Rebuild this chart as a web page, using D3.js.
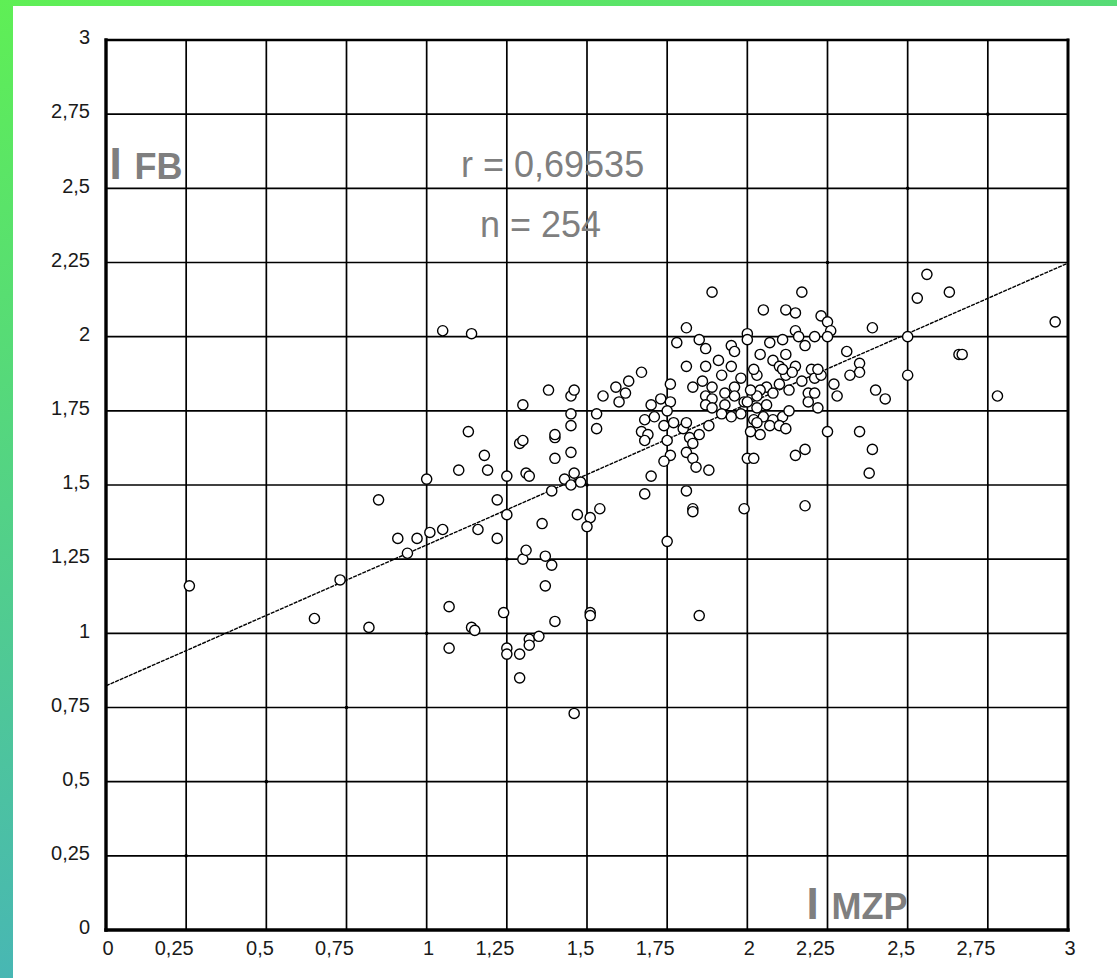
<!DOCTYPE html>
<html>
<head>
<meta charset="utf-8">
<script src="https://cdn.jsdelivr.net/npm/d3@7"></script>
<style>
  html, body { margin: 0; padding: 0; overflow: hidden; background: #fff; }
  svg { display: block; }
</style>
</head>
<body>
<svg id="chart" width="1117" height="978"></svg>
<script>
// I MZP (horizontal) and I FB (vertical) index per case
const iMZP = [
  0.26,0.65,0.73,0.82,0.85,0.91,0.94,0.97,1.01,1.00,1.05,1.05,1.14,1.13,1.18,1.10,1.19,1.07,1.07,1.14,
  1.15,1.16,1.22,1.22,1.25,1.25,1.24,1.25,1.25,1.29,1.29,1.32,1.32,1.35,1.40,1.37,1.37,1.39,1.30,1.31,
  1.36,1.30,1.29,1.30,1.38,1.40,1.40,1.40,1.45,1.31,1.32,1.43,1.46,1.45,1.48,1.39,1.45,1.46,1.45,1.45,
  1.53,1.53,1.55,1.59,1.62,1.60,1.63,1.67,1.47,1.51,1.50,1.54,1.51,1.51,1.46,1.68,1.70,1.75,1.81,1.83,
  1.83,1.85,1.76,1.78,1.81,1.85,1.81,1.89,1.87,1.95,1.96,2.00,2.00,2.05,2.12,2.15,2.17,2.23,2.25,2.26,
  2.39,2.07,2.11,2.15,2.16,2.18,2.21,2.25,2.31,2.35,2.35,2.32,2.27,2.28,2.40,2.43,2.25,2.35,2.39,2.18,
  2.15,2.38,2.18,1.99,2.00,2.02,2.56,2.63,2.53,2.96,2.50,2.66,2.67,2.50,2.78,
  1.70,1.73,1.76,1.68,1.71,1.75,1.74,1.77,1.80,1.67,1.69,1.68,1.75,1.81,1.76,1.74,1.82,1.83,1.84,1.81,
  1.85,1.88,1.88,1.83,
  1.91,1.87,1.95,1.83,1.86,1.89,1.92,1.96,1.98,1.87,1.89,1.93,1.96,1.87,1.89,1.93,1.92,1.95,1.98,1.99,
  2.04,2.08,2.10,2.12,2.03,2.06,2.04,2.08,2.10,2.12,2.13,2.00,2.03,2.06,2.02,2.05,2.08,2.11,2.03,2.07,
  2.10,2.01,2.04,2.02,2.11,2.15,2.17,2.19,2.03,2.01,2.20,2.21,2.23,2.21,2.19,2.22,2.13,2.12,2.22,2.14
];
const iFB = [
  1.16,1.05,1.18,1.02,1.45,1.32,1.27,1.32,1.34,1.52,1.35,2.02,2.01,1.68,1.60,1.55,1.55,1.09,0.95,1.02,
  1.01,1.35,1.32,1.45,1.53,1.40,1.07,0.95,0.93,0.93,0.85,0.98,0.96,0.99,1.04,1.16,1.26,1.23,1.25,1.28,
  1.37,1.77,1.64,1.65,1.82,1.66,1.67,1.59,1.61,1.54,1.53,1.52,1.54,1.50,1.51,1.48,1.80,1.82,1.74,1.70,
  1.74,1.69,1.80,1.83,1.81,1.78,1.85,1.88,1.40,1.39,1.36,1.42,1.07,1.06,0.73,1.47,1.53,1.31,1.48,1.42,
  1.41,1.06,1.84,1.98,2.03,1.99,1.90,2.15,1.96,1.97,1.95,2.01,1.99,2.09,2.09,2.08,2.15,2.07,2.05,2.02,
  2.03,1.98,1.99,2.02,2.00,1.97,2.00,2.00,1.95,1.91,1.88,1.87,1.84,1.80,1.82,1.79,1.68,1.68,1.62,1.62,
  1.60,1.54,1.43,1.42,1.59,1.59,2.21,2.15,2.13,2.05,2.00,1.94,1.94,1.87,1.80,
  1.77,1.79,1.78,1.72,1.73,1.75,1.70,1.71,1.69,1.68,1.67,1.65,1.65,1.61,1.60,1.58,1.66,1.59,1.56,1.71,
  1.67,1.70,1.55,1.64,
  1.92,1.90,1.90,1.83,1.85,1.83,1.87,1.83,1.86,1.80,1.79,1.81,1.80,1.77,1.76,1.77,1.74,1.73,1.74,1.78,
  1.94,1.92,1.90,1.94,1.87,1.83,1.82,1.81,1.84,1.87,1.82,1.78,1.76,1.77,1.72,1.73,1.72,1.73,1.71,1.70,
  1.70,1.68,1.67,1.89,1.89,1.90,1.85,1.81,1.80,1.82,1.89,1.86,1.87,1.81,1.78,1.76,1.75,1.69,1.89,1.88
];

// Axis ticks (both axes share the same scale steps)
const tickValues = [0, 0.25, 0.5, 0.75, 1, 1.25, 1.5, 1.75, 2, 2.25, 2.5, 2.75, 3];
const tickLabels = ["0", "0,25", "0,5", "0,75", "1", "1,25", "1,5", "1,75", "2", "2,25", "2,5", "2,75", "3"];

// Least-squares line and summary statistics
const fitIntercept = 0.823;
const fitSlope = 0.475;
const rText = "0,69535";
const nText = "254";

const W = 1117, H = 978;
const svg = d3.select("#chart");

// Framed page background
const defs = svg.append("defs");
const grad = defs.append("linearGradient").attr("id", "frameGrad")
  .attr("x1", "0").attr("y1", "0").attr("x2", "0.35").attr("y2", "1");
grad.append("stop").attr("offset", "0").attr("stop-color", "#5fef55");
grad.append("stop").attr("offset", "1").attr("stop-color", "#45b0bf");
svg.append("rect").attr("width", W).attr("height", H).attr("fill", "url(#frameGrad)");
svg.append("rect").attr("x", 13).attr("y", 6).attr("width", W - 13).attr("height", H - 6).attr("fill", "#fff");

const x = d3.scaleLinear().domain([0, 3]).range([106, 1068]);
const y = d3.scaleLinear().domain([0, 3]).range([930, 40]);

// Grid
const grid = svg.append("g").attr("stroke", "#000").attr("stroke-width", 1.7);
grid.selectAll("line.v").data(tickValues.slice(1, -1)).join("line")
  .attr("class", "v")
  .attr("x1", d => x(d)).attr("x2", d => x(d)).attr("y1", y(0)).attr("y2", y(3));
grid.selectAll("line.h").data(tickValues.slice(1, -1)).join("line")
  .attr("class", "h")
  .attr("y1", d => y(d)).attr("y2", d => y(d)).attr("x1", x(0)).attr("x2", x(3));

// Plot frame
const frame = svg.append("g").attr("stroke", "#000").attr("stroke-linecap", "square");
frame.append("line").attr("x1", x(0)).attr("x2", x(3)).attr("y1", y(3)).attr("y2", y(3)).attr("stroke-width", 2.4);
frame.append("line").attr("x1", x(3)).attr("x2", x(3)).attr("y1", y(3)).attr("y2", y(0)).attr("stroke-width", 3);
frame.append("line").attr("x1", x(0)).attr("x2", x(0)).attr("y1", y(3)).attr("y2", y(0)).attr("stroke-width", 3.4);
frame.append("line").attr("x1", x(0)).attr("x2", x(3)).attr("y1", y(0)).attr("y2", y(0)).attr("stroke-width", 3.4);

// Axes (labels only, the frame draws the lines)
const labelOf = d => tickLabels[tickValues.indexOf(d)];
const axFont = "'Liberation Sans', Arial, sans-serif";

const yAxis = svg.append("g").attr("transform", `translate(${x(0)},0)`)
  .call(d3.axisLeft(y).tickValues(tickValues).tickFormat(labelOf).tickSize(0).tickPadding(16));
yAxis.select(".domain").remove();
yAxis.selectAll("text").attr("font-family", axFont).attr("font-size", 20).attr("fill", "#1a1a1a")
  .attr("y", -3).attr("dy", "0.34em");

const xAxis = svg.append("g").attr("transform", `translate(0,${y(0)})`)
  .call(d3.axisBottom(x).tickValues(tickValues).tickFormat(labelOf).tickSize(0));
xAxis.select(".domain").remove();
xAxis.selectAll("text").attr("font-family", axFont).attr("font-size", 20).attr("fill", "#1a1a1a")
  .attr("text-anchor", "end").attr("x", 7).attr("y", 18).attr("dy", "0.34em");

// Identity diagonal markers
svg.append("g").selectAll("circle").data(tickValues.slice(1, -1)).join("circle")
  .attr("cx", d => x(d)).attr("cy", d => y(d)).attr("r", 1.8).attr("fill", "#000");

// Regression line
svg.append("line")
  .attr("x1", x(0)).attr("y1", y(fitIntercept))
  .attr("x2", x(3)).attr("y2", y(fitIntercept + fitSlope * 3))
  .attr("stroke", "#000").attr("stroke-width", 1.4).attr("stroke-dasharray", "4,1");

// Cases
const points = iMZP.map((v, i) => ({ mzp: v, fb: iFB[i] }));
svg.append("g").selectAll("circle").data(points).join("circle")
  .attr("cx", d => x(d.mzp)).attr("cy", d => y(d.fb)).attr("r", 5.1)
  .attr("fill", "#fff").attr("stroke", "#000").attr("stroke-width", 1.4);

// Annotations
const grey = "#7f7f7f";
const annFont = "'Liberation Sans', Arial, sans-serif";
svg.append("text").attr("x", 461).attr("y", 177).attr("font-family", annFont).attr("font-size", 36)
  .attr("fill", grey).text(`r = ${rText}`);
svg.append("text").attr("x", 480).attr("y", 237).attr("font-family", annFont).attr("font-size", 36)
  .attr("fill", grey).text(`n = ${nText}`);

function axisTitle(px, py, sub) {
  const g = svg.append("g").attr("font-family", annFont).attr("font-weight", "bold").attr("fill", grey);
  g.append("text").attr("x", px).attr("y", py).attr("font-size", 44).text("I");
  g.append("text").attr("x", px + 25).attr("y", py).attr("font-size", 36).text(sub);
}
axisTitle(109.5, 178.5, "FB");
axisTitle(806.5, 918.5, "MZP");
</script>
</body>
</html>
